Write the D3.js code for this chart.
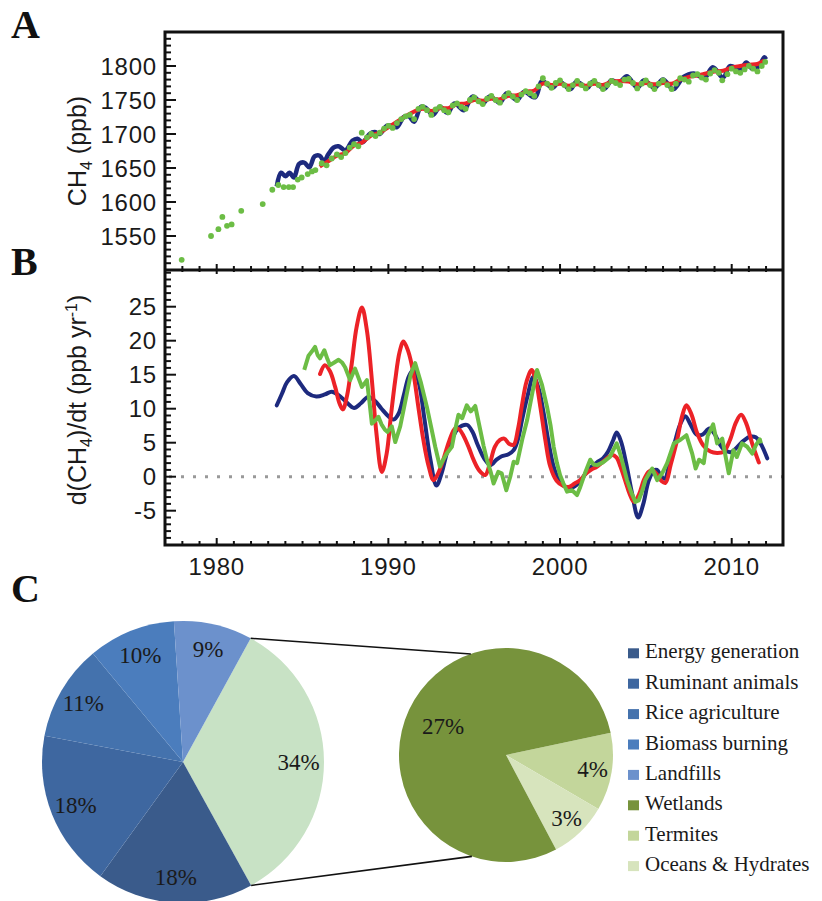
<!DOCTYPE html>
<html><head><meta charset="utf-8">
<script src="https://cdn.jsdelivr.net/npm/d3@7"></script>
<style>
html,body{margin:0;padding:0;background:#fff;}
svg{display:block;}
</style></head>
<body>
<script>
// ---------------- DATA ----------------
const yearTicks = [1980, 1990, 2000, 2010];
const ticksA = [1550, 1600, 1650, 1700, 1750, 1800];
const ticksB = [-5, 0, 5, 10, 15, 20, 25];

// Panel A: CH4 (ppb)
const blueA = [[1983.5,1623],[1983.75,1643],[1984.0,1638],[1984.25,1643],[1984.5,1636],[1984.8,1656],[1985.1,1658],[1985.4,1651],[1985.7,1667],[1986.0,1668],[1986.25,1660],[1986.5,1670],[1986.8,1680],[1987.1,1682],[1987.5,1676],[1987.9,1690],[1988.2,1693],[1988.5,1688],[1988.9,1700],[1989.2,1703],[1989.5,1700],[1989.9,1712],[1990.2,1712],[1990.5,1710],[1990.9,1725],[1991.2,1726],[1991.5,1718],[1991.9,1740],[1992.2,1738],[1992.6,1728],[1993.0,1740],[1993.45,1731],[1993.85,1745],[1994.4,1735],[1994.9,1755],[1995.5,1745],[1995.9,1755],[1996.5,1746],[1996.9,1760],[1997.5,1750],[1997.9,1762],[1998.55,1754],[1998.95,1778],[1999.55,1768],[1999.97,1777],[2000.6,1766],[2000.96,1777],[2001.6,1768],[2001.9,1777],[2002.6,1767],[2003.0,1779],[2003.4,1775],[2003.9,1785],[2004.5,1768],[2004.9,1779],[2005.5,1768],[2006.0,1780],[2006.6,1766],[2007.2,1784],[2007.8,1789],[2008.4,1782],[2008.9,1798],[2009.5,1783],[2009.9,1800],[2010.5,1795],[2010.85,1805],[2011.2,1796],[2011.6,1800],[2011.9,1813],[2012.0,1810]];
const redA = [[1986.0,1652],[1986.5,1660],[1987.0,1668],[1987.5,1672],[1988.0,1683],[1988.5,1688],[1989.0,1698],[1989.5,1702],[1990.0,1710],[1990.5,1718],[1991.0,1726],[1991.5,1733],[1992.0,1737],[1992.5,1734],[1993.0,1738],[1993.5,1738],[1994.0,1744],[1994.5,1745],[1995.0,1750],[1995.5,1749],[1996.0,1752],[1996.5,1751],[1997.0,1756],[1997.5,1757],[1998.0,1762],[1998.5,1764],[1999.0,1774],[1999.5,1772],[2000.0,1774],[2000.5,1771],[2001.0,1773],[2001.5,1771],[2002.0,1774],[2002.5,1772],[2003.0,1777],[2003.5,1778],[2004.0,1777],[2004.5,1773],[2005.0,1775],[2005.5,1773],[2006.0,1775],[2006.5,1774],[2007.0,1780],[2007.5,1784],[2008.0,1786],[2008.5,1789],[2009.0,1792],[2009.5,1793],[2010.0,1798],[2010.5,1800],[2011.0,1802],[2011.5,1803],[2011.9,1808]];
const greenA = [[1977.96,1515],[1979.67,1550],[1980.1,1560],[1980.33,1578],[1980.6,1565],[1980.87,1567],[1981.43,1587],[1982.68,1597],[1983.24,1618],[1983.59,1625],[1983.9,1622],[1984.2,1622],[1984.45,1622],[1984.72,1633],[1984.95,1636],[1985.3,1641],[1985.55,1645],[1985.75,1647],[1986.12,1657],[1986.4,1654],[1986.7,1664],[1987.0,1670],[1987.25,1666],[1987.5,1672],[1987.75,1680],[1988.0,1685],[1988.25,1682],[1988.45,1702],[1988.75,1695],[1989.0,1700],[1989.25,1697],[1989.5,1702],[1989.75,1708],[1990.0,1712],[1990.25,1709],[1990.5,1716],[1990.75,1722],[1991.0,1726],[1991.25,1728],[1991.5,1722],[1991.75,1737],[1992.0,1740],[1992.25,1735],[1992.5,1728],[1992.75,1736],[1993.0,1740],[1993.25,1735],[1993.5,1732],[1993.75,1742],[1994.0,1745],[1994.25,1740],[1994.5,1737],[1994.75,1750],[1995.0,1754],[1995.25,1748],[1995.5,1744],[1995.75,1752],[1996.0,1756],[1996.25,1750],[1996.5,1746],[1996.75,1755],[1997.0,1760],[1997.25,1755],[1997.5,1750],[1997.75,1758],[1998.0,1763],[1998.25,1760],[1998.5,1756],[1998.75,1770],[1999.0,1782],[1999.25,1774],[1999.5,1768],[1999.75,1775],[2000.0,1779],[2000.25,1772],[2000.5,1766],[2000.75,1772],[2001.0,1778],[2001.25,1772],[2001.5,1767],[2001.75,1774],[2002.0,1778],[2002.25,1772],[2002.5,1766],[2002.75,1772],[2003.0,1778],[2003.25,1775],[2003.5,1772],[2003.75,1780],[2004.0,1781],[2004.25,1775],[2004.5,1767],[2004.75,1774],[2005.0,1779],[2005.25,1772],[2005.5,1766],[2005.75,1774],[2006.0,1779],[2006.25,1772],[2006.5,1766],[2006.75,1774],[2007.0,1782],[2007.25,1780],[2007.5,1777],[2007.75,1786],[2008.0,1788],[2008.25,1783],[2008.5,1780],[2008.75,1789],[2009.0,1794],[2009.25,1790],[2009.45,1779],[2009.75,1788],[2010.0,1796],[2010.25,1792],[2010.5,1790],[2010.75,1795],[2011.0,1800],[2011.25,1796],[2011.5,1792],[2011.75,1800],[2011.95,1806]];

// Panel B: d(CH4)/dt (ppb/yr)
const blueB = [[1983.5,10.5],[1983.8,12.2],[1984.1,13.9],[1984.5,14.8],[1984.9,13.6],[1985.3,12.3],[1985.8,11.8],[1986.3,12.1],[1986.7,12.5],[1987.1,12.0],[1987.5,11.1],[1988.0,10.1],[1988.4,10.8],[1988.8,11.7],[1989.2,11.2],[1989.6,10.0],[1990.0,8.9],[1990.3,8.4],[1990.6,9.3],[1990.9,12.0],[1991.2,14.8],[1991.5,15.8],[1991.8,13.5],[1992.1,8.5],[1992.45,2.5],[1992.8,-1.3],[1993.1,0.5],[1993.4,3.4],[1993.7,5.5],[1994.0,6.9],[1994.3,7.5],[1994.6,7.6],[1994.9,6.6],[1995.2,4.7],[1995.6,2.6],[1995.95,1.7],[1996.3,2.5],[1996.6,3.0],[1997.0,3.3],[1997.3,3.9],[1997.55,5.5],[1997.8,8.5],[1998.1,11.8],[1998.45,14.7],[1998.75,13.0],[1999.05,9.3],[1999.35,4.8],[1999.65,1.3],[2000.0,-0.8],[2000.4,-1.6],[2000.8,-1.5],[2001.2,-0.6],[2001.5,0.5],[2001.8,1.4],[2002.2,2.2],[2002.5,2.7],[2002.8,3.7],[2003.1,5.4],[2003.3,6.5],[2003.55,5.2],[2003.85,2.0],[2004.2,-2.5],[2004.55,-6.0],[2004.85,-4.0],[2005.15,-0.7],[2005.45,0.9],[2005.65,1.0],[2005.9,0.0],[2006.1,-0.3],[2006.4,2.2],[2006.7,5.2],[2007.0,7.7],[2007.3,8.9],[2007.6,7.7],[2007.95,6.2],[2008.3,6.2],[2008.7,7.1],[2009.0,6.3],[2009.3,4.8],[2009.6,3.9],[2009.95,3.6],[2010.3,4.3],[2010.7,5.3],[2011.1,5.9],[2011.4,5.8],[2011.7,4.8],[2012.07,2.7]];
const redB = [[1986.02,15.1],[1986.3,16.4],[1986.6,15.5],[1986.9,13.2],[1987.15,10.8],[1987.35,9.9],[1987.6,12.0],[1987.87,16.7],[1988.15,22.0],[1988.46,24.9],[1988.75,21.5],[1989.04,14.2],[1989.3,6.5],[1989.62,0.7],[1989.9,3.4],[1990.15,9.0],[1990.4,14.2],[1990.65,18.3],[1990.88,19.9],[1991.15,18.5],[1991.46,15.2],[1991.75,10.2],[1992.04,5.4],[1992.35,1.5],[1992.63,-0.5],[1992.9,0.5],[1993.2,2.5],[1993.55,5.3],[1993.9,7.1],[1994.15,6.9],[1994.4,5.9],[1994.7,4.2],[1994.96,2.5],[1995.3,0.9],[1995.64,0.25],[1995.9,1.8],[1996.2,4.4],[1996.5,5.4],[1996.75,5.6],[1997.05,4.8],[1997.3,4.7],[1997.55,7.0],[1997.77,10.3],[1998.05,14.0],[1998.35,15.7],[1998.6,14.0],[1998.85,10.3],[1999.15,5.3],[1999.43,1.5],[1999.8,-0.6],[2000.15,-1.3],[2000.5,-1.5],[2000.85,-1.0],[2001.18,-0.5],[2001.45,0.3],[2001.8,1.0],[2002.16,1.5],[2002.6,2.4],[2003.03,3.2],[2003.3,2.8],[2003.52,1.5],[2003.8,-0.6],[2004.05,-2.5],[2004.3,-3.7],[2004.6,-2.6],[2004.88,-0.5],[2005.15,0.7],[2005.37,1.0],[2005.65,0.3],[2005.9,-0.6],[2006.14,-0.9],[2006.45,1.8],[2006.82,5.4],[2007.1,8.8],[2007.36,10.5],[2007.65,9.2],[2007.99,6.4],[2008.35,4.6],[2008.76,3.7],[2009.15,3.5],[2009.54,3.7],[2009.9,5.4],[2010.25,8.0],[2010.55,9.1],[2010.85,7.8],[2011.19,4.9],[2011.58,2.1]];
const greenB = [[1985.1,15.7],[1985.35,17.8],[1985.54,18.4],[1985.73,19.1],[1985.88,17.9],[1986.02,17.4],[1986.27,18.6],[1986.45,17.3],[1986.6,16.4],[1986.85,16.8],[1987.1,17.2],[1987.3,16.8],[1987.48,16.1],[1987.77,14.2],[1988.06,15.9],[1988.25,14.6],[1988.46,13.2],[1988.75,14.2],[1988.9,11.0],[1989.04,7.8],[1989.25,8.3],[1989.42,8.8],[1989.6,7.7],[1989.8,6.9],[1989.95,6.6],[1990.2,7.4],[1990.4,5.1],[1990.69,7.4],[1990.9,10.0],[1991.08,12.3],[1991.3,15.0],[1991.56,16.7],[1991.9,13.8],[1992.24,10.3],[1992.5,7.2],[1992.73,4.4],[1993.0,1.5],[1993.2,2.5],[1993.4,3.4],[1993.7,4.4],[1993.9,7.0],[1994.08,9.1],[1994.3,8.6],[1994.57,10.5],[1994.8,9.6],[1995.06,10.4],[1995.35,6.9],[1995.55,4.5],[1995.74,2.5],[1995.95,0.8],[1996.13,-1.0],[1996.4,0.7],[1996.6,0.5],[1996.87,-2.0],[1997.1,0.0],[1997.3,2.2],[1997.5,2.0],[1997.8,5.5],[1998.08,8.3],[1998.4,12.5],[1998.66,15.7],[1998.95,13.5],[1999.24,10.3],[1999.45,7.5],[1999.63,4.4],[1999.82,2.0],[2000.0,0.25],[2000.2,-1.0],[2000.41,-2.2],[2000.7,-2.0],[2000.99,-2.7],[2001.18,-1.5],[2001.45,0.5],[2001.76,2.5],[2001.95,1.8],[2002.16,1.7],[2002.5,2.1],[2002.9,2.9],[2003.3,4.9],[2003.5,3.4],[2003.7,1.5],[2003.9,-0.5],[2004.15,-2.3],[2004.39,-3.7],[2004.58,-3.5],[2004.8,-2.0],[2004.97,-0.5],[2005.2,0.5],[2005.37,1.2],[2005.66,-0.5],[2005.95,0.5],[2006.24,2.0],[2006.63,4.9],[2007.0,5.4],[2007.36,6.1],[2007.7,3.4],[2007.9,1.2],[2008.1,2.5],[2008.37,2.0],[2008.6,6.0],[2008.92,7.7],[2009.15,4.9],[2009.45,5.6],[2009.83,0.5],[2010.1,3.9],[2010.3,2.9],[2010.6,4.9],[2010.9,4.4],[2011.2,3.4],[2011.4,4.6],[2011.64,5.5],[2011.7,4.9]];

// Panel C: sources (%)
const sourceNames = ["Energy generation","Ruminant animals","Rice agriculture","Biomass burning","Landfills","Wetlands","Termites","Oceans & Hydrates"];
const anthroValues = [18, 18, 11, 10, 9];
const naturalNames = ["Termites","Oceans & Hydrates","Wetlands"];
const naturalValues = [4, 3, 27];
const naturalTotal = 34;
const sourceColors = ["#3a5b8b","#3e67a0","#4472ad","#4b7dbd","#6c91cc","#77933c","#c3d69b","#d7e4bd"];
const naturalGroupColor = "#c8e2c5";

// ---------------- LAYOUT ----------------
const W = 822, H = 901;
const L = 165, R = 783, TOP = 32, MID = 270, BOT = 545;
const svg = d3.select("body").append("svg").attr("width", W).attr("height", H);

const x = d3.scaleLinear().domain([1980, 2010]).range([216.7, 731.7]);
const yA = d3.scaleLinear().domain([1550, 1800]).range([236, 66]);
const yB = d3.scaleLinear().domain([0, 25]).range([476.7, 306.7]);

const BLUE = "#1d2a7e", RED = "#ec2227", GREEN = "#6cbd45";
const sans = "'Liberation Sans', Arial, sans-serif";
const serif = "'Liberation Serif', 'Times New Roman', serif";

// clip paths
svg.append("clipPath").attr("id","clipA").append("rect").attr("x",L).attr("y",TOP).attr("width",R-L).attr("height",MID-TOP);
svg.append("clipPath").attr("id","clipB").append("rect").attr("x",L).attr("y",MID).attr("width",R-L).attr("height",BOT-MID);

// zero dotted line
svg.append("line").attr("x1", L+4).attr("x2", R).attr("y1", yB(0)).attr("y2", yB(0))
  .attr("stroke", "#999").attr("stroke-width", 3).attr("stroke-dasharray", "3,9");

// Panel A data
const gA = svg.append("g").attr("clip-path","url(#clipA)");
const lineA = d3.line().x(d => x(d[0])).y(d => yA(d[1])).curve(d3.curveCatmullRom.alpha(0.5));
gA.append("path").datum(blueA).attr("d", lineA).attr("fill","none").attr("stroke",BLUE).attr("stroke-width",4.5).attr("stroke-linejoin","round");
gA.append("path").datum(redA).attr("d", lineA).attr("fill","none").attr("stroke",RED).attr("stroke-width",4).attr("stroke-linejoin","round");
gA.selectAll("circle.g").data(greenA).join("circle").attr("cx", d => x(d[0])).attr("cy", d => yA(d[1])).attr("r", 2.9).attr("fill", GREEN);

// Panel B data
const gB = svg.append("g").attr("clip-path","url(#clipB)");
const lineBs = d3.line().x(d => x(d[0])).y(d => yB(d[1])).curve(d3.curveCatmullRom.alpha(0.5));
const lineBl = d3.line().x(d => x(d[0])).y(d => yB(d[1]));
gB.append("path").datum(blueB).attr("d", lineBs).attr("fill","none").attr("stroke",BLUE).attr("stroke-width",4).attr("stroke-linecap","round");
gB.append("path").datum(redB).attr("d", lineBs).attr("fill","none").attr("stroke",RED).attr("stroke-width",4).attr("stroke-linecap","round");
gB.append("path").datum(greenB).attr("d", lineBl).attr("fill","none").attr("stroke",GREEN).attr("stroke-width",4).attr("stroke-linejoin","round");

// Frame
const frame = svg.append("g").attr("stroke","#111").attr("stroke-width",3).attr("fill","none");
frame.append("path").attr("d", `M${L},${TOP}H${R}V${BOT}H${L}Z`);
frame.append("line").attr("x1",L).attr("x2",R).attr("y1",MID).attr("y2",MID);

// Year ticks (minor every year, major every decade)
const years = d3.range(1978, 2013);
const tk = svg.append("g").attr("stroke","#111").attr("stroke-width",2);
years.forEach(yr => {
  const major = yr % 10 === 0;
  tk.append("line").attr("x1", x(yr)).attr("x2", x(yr)).attr("y1", MID - (major ? 6 : 4)).attr("y2", MID + (major ? 4 : 2));
  tk.append("line").attr("x1", x(yr)).attr("x2", x(yr)).attr("y1", BOT - (major ? 7 : 4)).attr("y2", BOT);
});
// Y ticks A
d3.range(1500, 1851, 10).forEach(v => {
  const yy = yA(v); if (yy < TOP + 2 || yy > MID - 2) return;
  const major = v % 50 === 0 && v >= 1550 && v <= 1800;
  tk.append("line").attr("x1", L).attr("x2", L + (major ? 11 : 6)).attr("y1", yy).attr("y2", yy);
});
d3.range(-10, 31, 1).forEach(v => {
  const yy = yB(v); if (yy < MID + 2 || yy > BOT - 2) return;
  const major = v % 5 === 0 && v >= -5 && v <= 25;
  tk.append("line").attr("x1", L).attr("x2", L + (major ? 11 : 6)).attr("y1", yy).attr("y2", yy);
});

// Tick labels
const lab = svg.append("g").attr("font-family", sans).attr("font-size", 24).attr("fill","#1a1a1a").attr("letter-spacing", 0.8);
ticksA.forEach(v => lab.append("text").attr("x", 157).attr("y", yA(v)).attr("dy","0.36em").attr("text-anchor","end").text(v));
ticksB.forEach(v => lab.append("text").attr("x", 157).attr("y", yB(v)).attr("dy","0.36em").attr("text-anchor","end").text(v));
yearTicks.forEach(v => lab.append("text").attr("x", x(v)).attr("y", 575).attr("text-anchor","middle").text(v));

// Axis titles
const tA = svg.append("text").attr("transform", `translate(86,${(yA(1550)+yA(1800))/2}) rotate(-90)`)
  .attr("text-anchor","middle").attr("font-family", sans).attr("font-size", 25).attr("fill","#1a1a1a");
tA.append("tspan").text("CH");
tA.append("tspan").attr("font-size", 16).attr("dy", 6).text("4");
tA.append("tspan").attr("dy", -6).text(" (ppb)");

const tB = svg.append("text").attr("transform", `translate(86,400) rotate(-90)`)
  .attr("text-anchor","middle").attr("font-family", sans).attr("font-size", 25).attr("fill","#1a1a1a");
tB.append("tspan").text("d(CH");
tB.append("tspan").attr("font-size", 16).attr("dy", 6).text("4");
tB.append("tspan").attr("dy", -6).text(")/dt (ppb yr");
tB.append("tspan").attr("font-size", 16).attr("dy", -9).text("-1");
tB.append("tspan").attr("dy", 9).text(")");

// Panel letters
const letters = [["A", 38], ["B", 275], ["C", 602]];
letters.forEach(([t, yy]) => svg.append("text").attr("x", 11).attr("y", yy).attr("font-family", serif)
  .attr("font-weight","bold").attr("font-size", 40).attr("fill","#111").text(t));

// ---------------- PIES ----------------
const deg = Math.PI / 180;
const c1 = {x: 183, y: 762, r: 141};
const c2 = {x: 506, y: 755, r: 107};

const leftData = [{name:"Natural", value: naturalTotal, color: naturalGroupColor}]
  .concat(anthroValues.map((v,i) => ({name: sourceNames[i], value: v, color: sourceColors[i]})));
const leftStart = 28.7 * deg;
const leftArcs = d3.pie().value(d => d.value).sort(null).startAngle(leftStart).endAngle(leftStart + 2*Math.PI)(leftData);
const arc1 = d3.arc().innerRadius(0).outerRadius(c1.r);
const lab1 = d3.arc().innerRadius(c1.r*0.82).outerRadius(c1.r*0.82);
const gp1 = svg.append("g").attr("transform", `translate(${c1.x},${c1.y})`);
gp1.selectAll("path").data(leftArcs).join("path").attr("d", arc1).attr("fill", d => d.data.color);
gp1.selectAll("text").data(leftArcs).join("text")
  .attr("transform", d => `translate(${lab1.centroid(d)})`).attr("dy","0.35em").attr("text-anchor","middle")
  .attr("font-family", serif).attr("font-size", 23).attr("fill","#1a1a1a").text(d => d.value + "%");

const rightData = naturalValues.map((v,i) => ({name: naturalNames[i], value: v, color: sourceColors[sourceNames.indexOf(naturalNames[i])]}));
const rightStart = 78 * deg;
const rightArcs = d3.pie().value(d => d.value).sort(null).startAngle(rightStart).endAngle(rightStart + 2*Math.PI)(rightData);
const arc2 = d3.arc().innerRadius(0).outerRadius(c2.r);
const gp2 = svg.append("g").attr("transform", `translate(${c2.x},${c2.y})`);
gp2.selectAll("path").data(rightArcs).join("path").attr("d", arc2).attr("fill", d => d.data.color);
gp2.selectAll("text").data(rightArcs).join("text")
  .attr("transform", d => { const k = d.data.name === "Wetlands" ? 0.65 : 0.82; return `translate(${d3.arc().innerRadius(c2.r*k).outerRadius(c2.r*k).centroid(d)})`; })
  .attr("dy","0.35em").attr("text-anchor","middle")
  .attr("font-family", serif).attr("font-size", 23).attr("fill","#1a1a1a").text(d => d.value + "%");

// connectors
const pt = (c, a, r) => [c.x + r*Math.sin(a), c.y - r*Math.cos(a)];
const nat = leftArcs[0];
const conn = [[pt(c1, nat.startAngle, c1.r), pt(c2, 340.8*deg, c2.r)], [pt(c1, nat.endAngle, c1.r), pt(c2, 198.6*deg, c2.r)]];
conn.forEach(([a,b]) => svg.append("line").attr("x1",a[0]).attr("y1",a[1]).attr("x2",b[0]).attr("y2",b[1]).attr("stroke","#111").attr("stroke-width",1.6));

// legend
const lg = svg.append("g").attr("font-family", serif).attr("font-size", 21).attr("fill","#1a1a1a");
sourceNames.forEach((n,i) => {
  const by = 658.3 + i*30.4;
  lg.append("rect").attr("x", 628).attr("y", by - 10).attr("width", 11).attr("height", 10).attr("fill", sourceColors[i]);
  lg.append("text").attr("x", 645).attr("y", by).text(n);
});
</script>
</body></html>
